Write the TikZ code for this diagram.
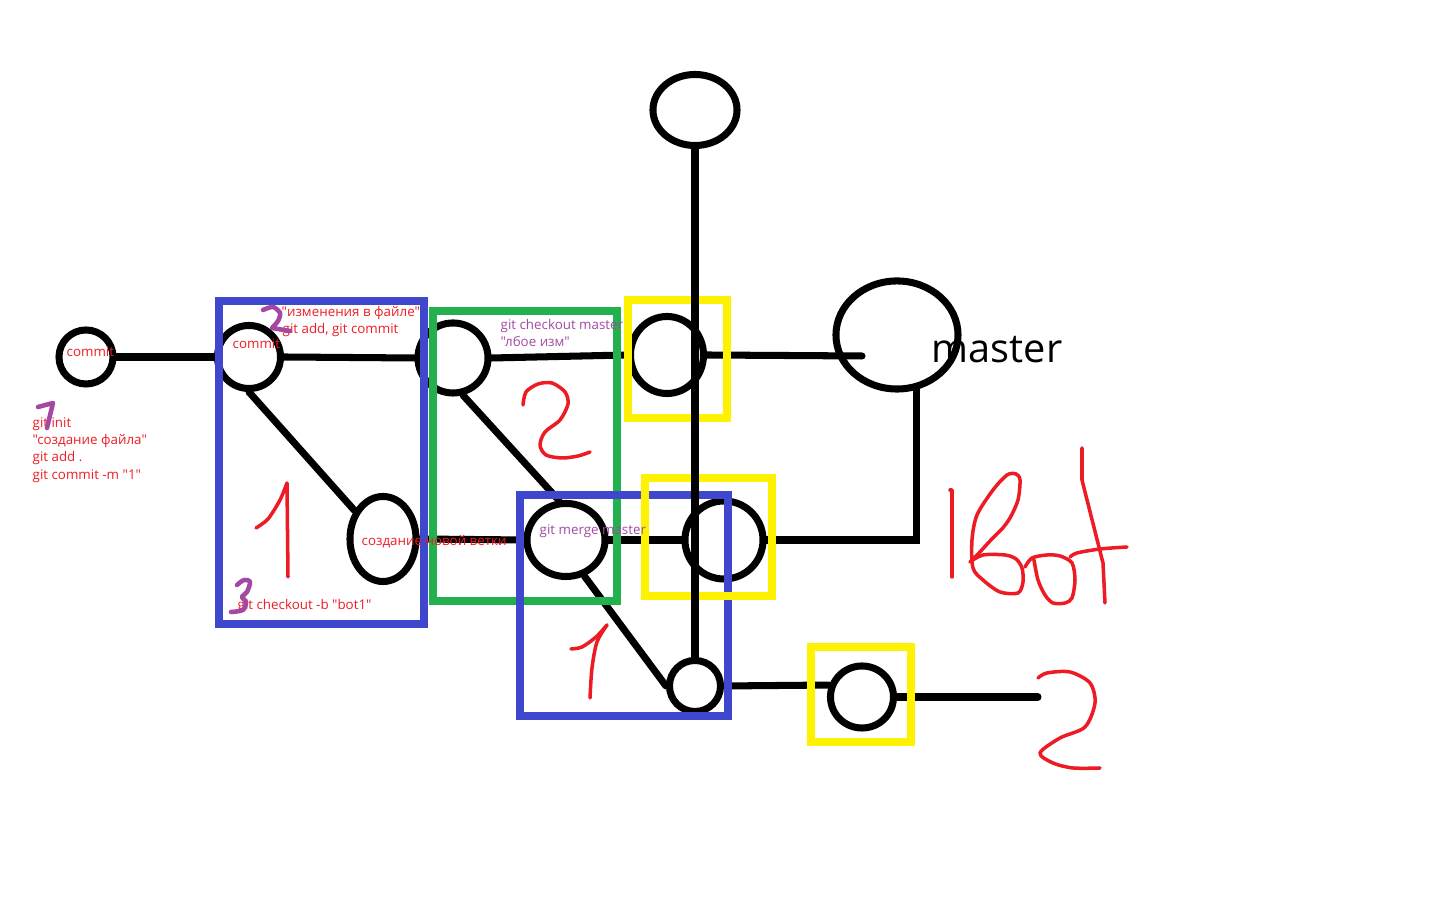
\documentclass[tikz,border=0pt]{standalone}
\usepackage{fontspec}
\setmainfont{Open Sans}
\newfontfamily\paintfont{Open Sans}
\definecolor{PBLUE}{HTML}{3F48CC}
\definecolor{PGREEN}{HTML}{22B14C}
\definecolor{PYELLOW}{HTML}{FFF200}
\definecolor{PRED}{HTML}{ED1C24}
\definecolor{PPURPLE}{HTML}{A349A4}
\usetikzlibrary{shapes.geometric}

\begin{document}
\begin{tikzpicture}[x=0.01cm, y=-0.01cm,
  cnode/.style={draw=black, ellipse, line width=2pt, inner sep=0pt},
  link/.style={draw=black, line width=2pt, line cap=round},
  bluebox/.style={draw=PBLUE, line width=2pt},
  greenbox/.style={draw=PGREEN, line width=2pt},
  yellowbox/.style={draw=PYELLOW, line width=2.3pt},
  rtxt/.style={anchor=base west, inner sep=0pt, text=PRED, font=\paintfont\fontsize{3.8}{4.6}\selectfont},
  ptxt/.style={rtxt, text=PPURPLE},
  hand/.style={draw=PRED, line width=1pt, line cap=round, line join=round},
  phand/.style={draw=PPURPLE, line width=1.3pt, line cap=round, line join=round}
]
\useasboundingbox (0,0) rectangle (1456,904);

\node[cnode, minimum width=0.54cm, minimum height=0.54cm] (c0)  at (86,357)  {};
\node[cnode, minimum width=0.63cm, minimum height=0.63cm] (c1)  at (249,357) {};
\node[cnode, minimum width=0.70cm, minimum height=0.70cm] (c2)  at (453,358) {};
\node[cnode, minimum width=0.66cm, minimum height=0.85cm] (c3)  at (383,539) {};
\node[cnode, minimum width=0.73cm, minimum height=0.77cm] (c4)  at (667,355) {};
\node[cnode, minimum width=0.84cm, minimum height=0.71cm] (c5)  at (695,110) {};
\node[cnode, minimum width=1.22cm, minimum height=1.08cm] (c6)  at (897,335) {};
\node[cnode, minimum width=0.78cm, minimum height=0.73cm] (c7)  at (566,540) {};
\node[cnode, minimum width=0.78cm, minimum height=0.78cm] (c8)  at (724,540) {};
\node[cnode, minimum width=0.51cm, minimum height=0.51cm] (c9)  at (695,686) {};
\node[cnode, minimum width=0.63cm, minimum height=0.62cm] (c10) at (862,697) {};
\coordinate (mjoin) at (862,356);
\coordinate (tail)  at (1038,697);

\draw[link] (c0.east) -- (c1.west);
\draw[link] (c1.east) -- (c2.west);
\draw[link] (c2.east) -- (c4.west);
\draw[link] (c4.east) -- (mjoin);
\draw[link] (c1.south) -- (c3.135);
\draw[link] (c3.east) -- (c7.west);
\draw[link] (c2.-75) -- (c7.100);
\draw[link] (c7.east) -- (c8.west);
\draw[link] (c8.east) -| (c6.-70);
\draw[link] (c7.-63) -- (c9.west);
\draw[link] (c9.east) -- (c10.160);
\draw[link] (c10.east) -- (tail);

\draw[bluebox]   (219,301) rectangle (424,624);
\draw[greenbox]  (433,311) rectangle (617,601);
\draw[bluebox]   (520,495) rectangle (728,716);
\draw[yellowbox] (628,300) rectangle (727,418);
\draw[yellowbox] (645,478) rectangle (772,596);
\draw[yellowbox] (811,647) rectangle (911,742);

\draw[link] (c5) -- (c9);

\node[rtxt] (t0)  at (66,357)  {commit};
\node[rtxt] (t1)  at (32,428)  {git init};
\node[rtxt] (t2)  at (32,445)  {"создание файла"};
\node[rtxt] (t3)  at (32,462)  {git add .};
\node[rtxt] (t4)  at (32,480)  {git commit -m "1"};
\node[rtxt] (t5)  at (232,349) {commit};
\node[rtxt] (t6)  at (281,317) {"изменения в файле"};
\node[rtxt] (t7)  at (282,334) {git add, git commit};
\node[ptxt] (t8)  at (500,330) {git checkout master};
\node[ptxt] (t9)  at (500,347) {"лбое изм"};
\node[rtxt] (t10) at (361,546) {создание новой ветки};
\node[ptxt] (t11) at (539,535) {git merge master};
\node[rtxt] (t12) at (237,610) {git checkout -b "bot1"};
\node[anchor=base west, inner sep=0pt, font=\paintfont\fontsize{11.3}{13}\selectfont] (t13) at (931,363) {master};

\draw[phand] (38,407) -- (53,403) -- (47,428);
\draw[phand] plot[smooth] coordinates {(263,310) (273,307) (280,313) (278,321) (272,328)} -- (290,331);
\draw[phand] plot[smooth] coordinates {(237,585) (244,580) (250,582) (247,592) (242,597) (246,602) (243,610) (231,612)};

\draw[hand] plot[smooth] coordinates {(256,528) (268,519) (280,500) (287,483)} -- (288,577);
\draw[hand] plot[smooth] coordinates {(523,405) (526,392) (538,384) (552,383) (565,392) (568,404) (560,420) (545,432) (540,445) (546,455) (562,458) (578,456) (590,452)};
\draw[hand] plot[smooth] coordinates {(571,649) (582,647) (596,637) (607,625)};
\draw[hand] plot[smooth] coordinates {(607,625) (597,642) (592,668) (590,698)};
\draw[hand] plot[smooth] coordinates {(1038,678) (1047,673) (1070,672) (1090,683) (1095,703) (1085,727) (1060,738) (1040,753) (1053,763) (1073,768) (1100,768)};

\draw[hand] (950,490) -- (952,490) -- (952,577);
\draw[hand] plot[smooth] coordinates {(970,562) (983,555) (1005,555) (1016,559) (1022,568) (1023,582) (1018,593) (1000,592) (983,580) (973,568) (972,540) (977,515) (993,490) (1007,475) (1016,474) (1020,480) (1018,500) (1010,518) (1002,529)};
\draw[hand] plot[smooth] coordinates {(970,562) (979,553) (990,541) (1002,529)};
\draw[hand] plot[smooth] coordinates {(1025,567) (1032,558) (1047,555) (1060,556) (1072,563) (1075,580) (1072,598) (1065,603) (1053,603) (1045,595) (1038,580) (1034,560)};
\draw[hand] (1082,448) -- (1082,480) -- (1103,563) -- (1105,603);
\draw[hand] plot[smooth] coordinates {(1070,557) (1077,553) (1100,549) (1127,547)};
\end{tikzpicture}
\end{document}
